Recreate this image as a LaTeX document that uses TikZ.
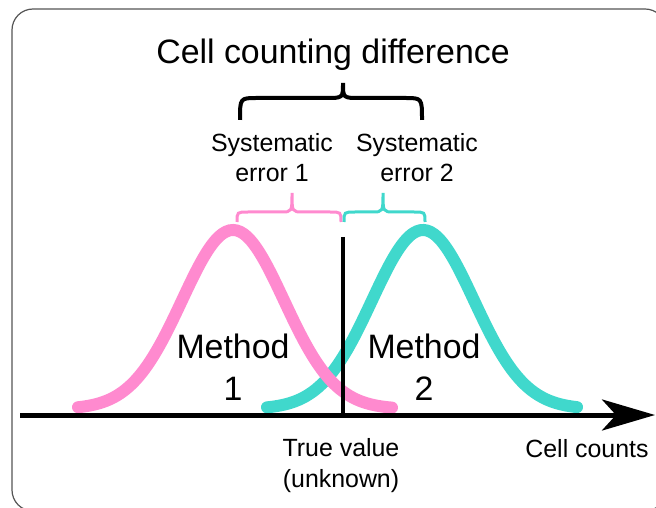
\documentclass[tikz,border=0pt]{standalone}
\usepackage{fontspec}
\setmainfont{Liberation Sans}
\usetikzlibrary{arrows.meta}
\definecolor{pinkc}{HTML}{FF8ACF}
\definecolor{tealc}{HTML}{40D8CC}
\definecolor{framec}{HTML}{555555}
\newcommand\curlybr[8]{%
  \draw[#1] (#2,#5) .. controls (#2,#6) .. ({#2+#8},#6) -- ({#4-#8},#6)
    .. controls (#4,#6) .. (#4,#7) .. controls (#4,#6) .. ({#4+#8},#6)
    -- ({#3-#8},#6) .. controls (#3,#6) .. (#3,#5);}
\tikzset{
  lbl/.style={font=\fontsize{25}{31}\selectfont, align=center, inner sep=0pt, anchor=base},
  big/.style={font=\fontsize{34}{42}\selectfont, align=center, inner sep=0pt, anchor=base},
  bell/.style={line width=12bp, line cap=round},
}
\begin{document}
\begin{tikzpicture}[x=1bp, y=-1bp]
\useasboundingbox (0,0) rectangle (656,508);
% frame
\draw[framec, line width=1.2bp, rounded corners=21bp] (12,9) rectangle (666,511);
% bell curves
\draw[bell, tealc] plot[domain=267:577, samples=90, smooth]
  (\x, {409 - 179*exp(-0.5*((\x-423)/51)^2)});
\draw[bell, pinkc] plot[domain=78:392, samples=90, smooth]
  (\x, {409 - 179*exp(-0.5*((\x-233)/51)^2)});
% true value line and axis
\coordinate (tvtop) at (343,237);
\coordinate (tvbot) at (343,415);
\draw[line width=4.5bp] (tvtop) -- (tvbot);
\coordinate (ax0) at (20,415);
\coordinate (ax1) at (655,415);
\draw[line width=5bp, -{Stealth[length=53bp, width=31bp, inset=14bp]}] (ax0) -- (ax1);
% braces
\curlybr{pinkc, line width=3bp}{237}{341}{292}{222}{212}{193}{11}
\curlybr{tealc, line width=3bp}{344}{425}{383}{222}{212}{193}{11}
\curlybr{black, line width=4bp}{240}{422}{343}{120}{98}{83}{17}
% texts (base = baseline of the last line)
\node[big] (title) at (333,64) {Cell counting difference};
\node[lbl] (se1) at (272,182) {Systematic\\error 1};
\node[lbl] (se2) at (417,182) {Systematic\\error 2};
\node[big] (m1) at (233,400) {Method\\1};
\node[big] (m2) at (424,400) {Method\\2};
\node[lbl] (tv) at (341,487) {True value\\(unknown)};
\node[lbl] (cc) at (587,457) {Cell counts};
\end{tikzpicture}
\end{document}
